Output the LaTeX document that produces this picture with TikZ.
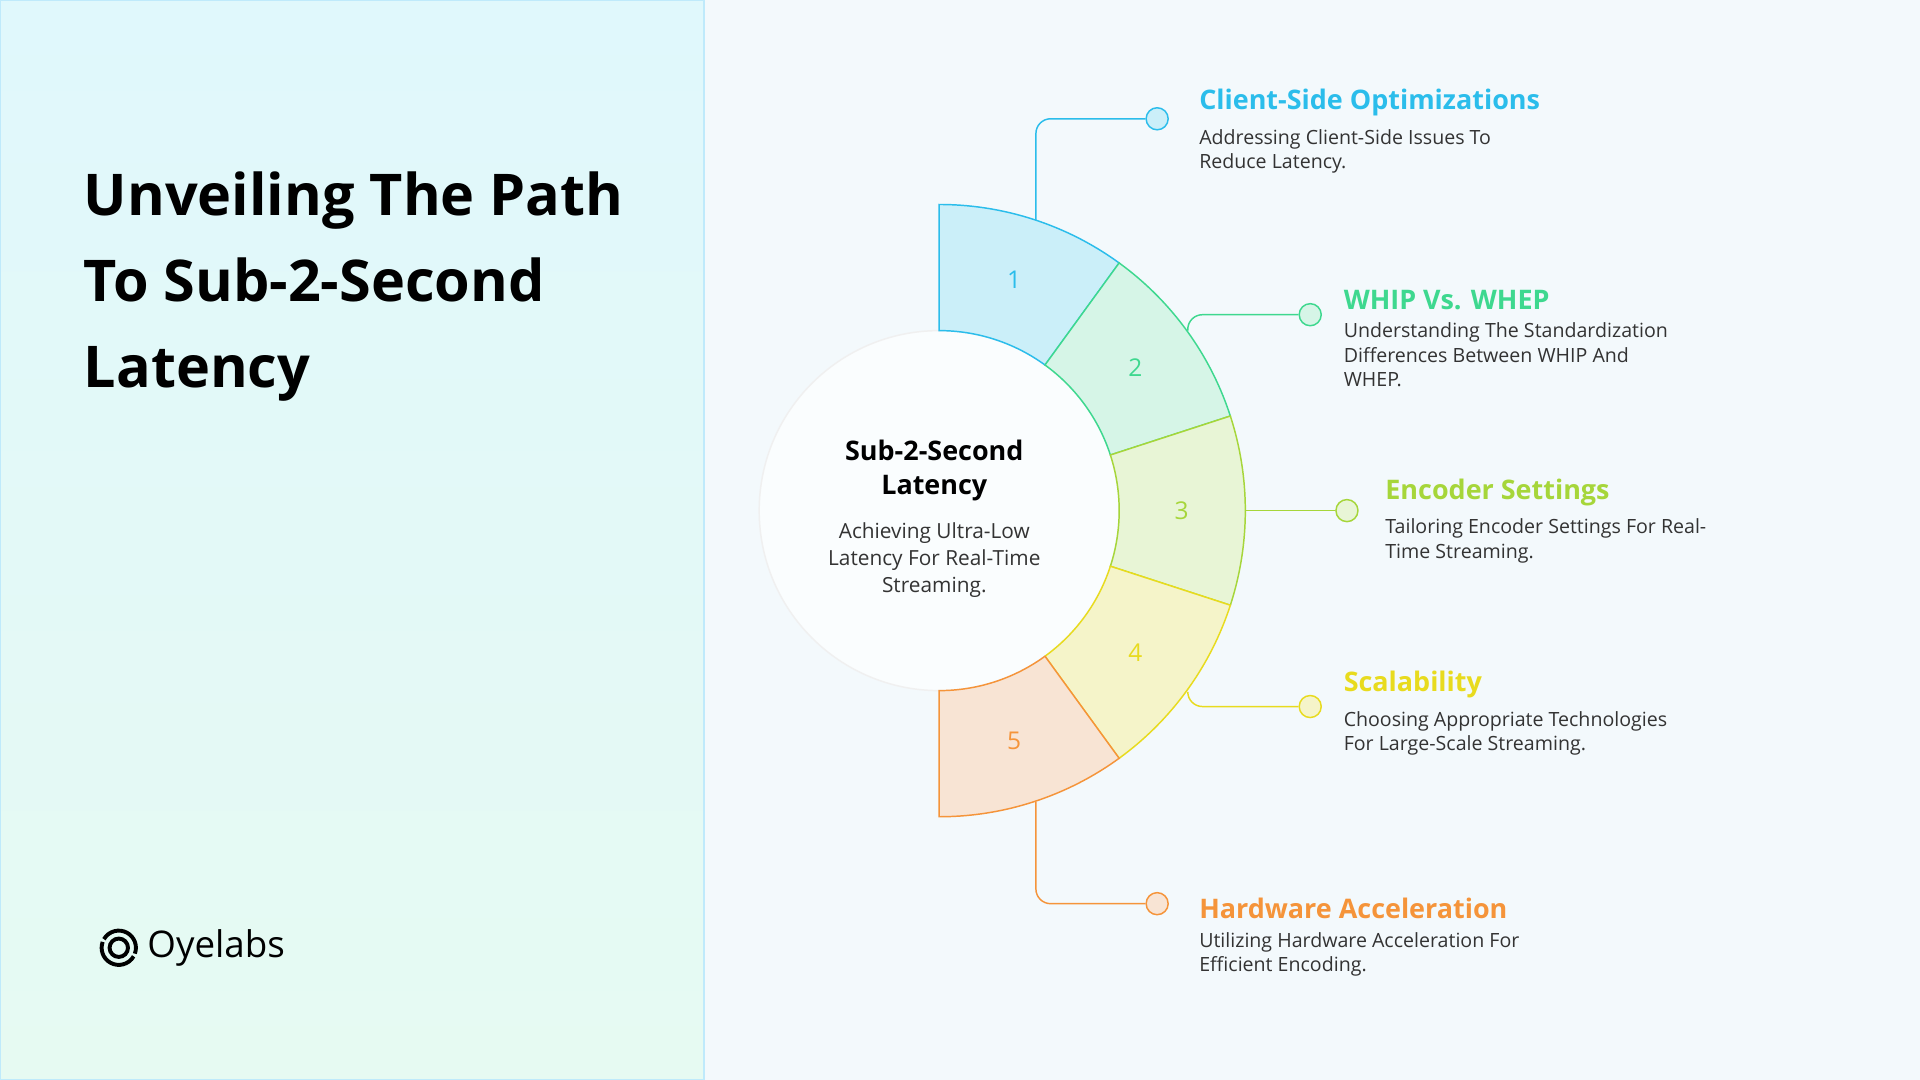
\documentclass[tikz,border=0pt]{standalone}
\usepackage{fontspec}
\setmainfont{Open Sans}
\usetikzlibrary{positioning,calc}
\definecolor{cA}{HTML}{2BBDEB}\definecolor{fA}{HTML}{CBEFF9}
\definecolor{cB}{HTML}{3ED88F}\definecolor{fB}{HTML}{D6F5E7}
\definecolor{cC}{HTML}{A6D63A}\definecolor{fC}{HTML}{E8F5D6}
\definecolor{cD}{HTML}{E8DB1E}\definecolor{fD}{HTML}{F5F4C9}
\definecolor{cE}{HTML}{F5943A}\definecolor{fE}{HTML}{F8E4D4}
\definecolor{bgR}{HTML}{F3F9FC}
\definecolor{panT}{HTML}{E0F8FC}\definecolor{panB}{HTML}{E6FAF2}
\tikzset{
  head/.style={anchor=west,inner sep=0pt,font=\fontsize{11}{13}\selectfont\bfseries},
  body/.style={anchor=north west,inner sep=0pt,align=left,text=black!80,font=\fontsize{8}{10}\selectfont},
  dot/.style={circle,draw,fill=white,minimum size=9pt,inner sep=0pt,line width=0.6pt},
  link/.style={line width=0.6pt,rounded corners=6pt}
}
\begin{document}
\begin{tikzpicture}[x=0.5pt,y=-0.5pt]
\useasboundingbox (0,0) rectangle (1568,882);
\fill[bgR] (0,0) rectangle (1568,882);
% left panel
\shade[top color=panT,bottom color=panB] (0,0) rectangle (575,882);
\draw[cyan!25,line width=0.6pt] (0,0) rectangle (575,882);
\node[anchor=north west,align=left,inner sep=0pt,font=\fontsize{23.5}{35}\selectfont\bfseries] (title) at (68,140)
  {Unveiling The Path\\To Sub-2-Second\\Latency};
% logo
\draw[line width=1.6pt] (97,774) circle (7.5);
\draw[line width=1.6pt] (97,774) ++(30:14) arc (30:200:14);
\draw[line width=1.6pt] (97,774) ++(210:14) arc (210:380:14) ;
\node[anchor=west,inner sep=0pt,font=\fontsize{15}{18}\selectfont] (logo) at (120,774) {Oyelabs};
% centre
\draw[black!6,fill=bgR!40!white,line width=0.6pt] (767,417) circle (147);
\node[align=center,font=\fontsize{11}{14}\selectfont\bfseries] (core) at (763,384) {Sub-2-Second\\Latency};
\node[below=2pt of core,align=center,text=black!80,font=\fontsize{8.5}{11}\selectfont] (coretxt) {Achieving Ultra-Low\\Latency For Real-Time\\Streaming.};
% segments
\foreach \i/\c/\f in {1/cA/fA,2/cB/fB,3/cC/fC,4/cD/fD,5/cE/fE}{
  \pgfmathsetmacro{\a}{-90+36*(\i-1)}
  \pgfmathsetmacro{\b}{\a+36}
  \pgfmathsetmacro{\m}{\a+18}
  \draw[\c,fill=\f,line width=0.6pt] (767,417) ++(\a:147) -- ++(\a:103) arc[start angle=\a,end angle=\b,radius=250] -- ++(\b:-103) arc[start angle=\b,end angle=\a,radius=147] -- cycle;
  \node[text=\c,font=\fontsize{10}{12}\selectfont] (n\i) at ($(767,417)+(\m:198)$) {\i};
}
% connectors
\coordinate (s1) at (846,180); \node[dot,draw=cA,fill=fA] (d1) at (945,97) {};
\coordinate (s2) at (970,270); \node[dot,draw=cB,fill=fB] (d2) at (1070,257) {};
\coordinate (s3) at (1017,417); \node[dot,draw=cC,fill=fC] (d3) at (1100,417) {};
\coordinate (s4) at (970,566); \node[dot,draw=cD,fill=fD] (d4) at (1070,577) {};
\coordinate (s5) at (846,655); \node[dot,draw=cE,fill=fE] (d5) at (945,738) {};
\draw[link,cA] (s1) |- (d1);
\draw[link,cB] (s2) |- (d2);
\draw[link,cC] (s3) -- (d3);
\draw[link,cD] (s4) |- (d4);
\draw[link,cE] (s5) |- (d5);
% labels
\node[head,text=cA] (h1) at (979,84) {Client-Side Optimizations};
\node[body] at ($(h1.south west)+(0,10)$) {Addressing Client-Side Issues To\\Reduce Latency.};
\node[head,text=cB] (h2) at (1097,245) {WHIP Vs. WHEP};
\node[body] at ($(h2.south west)+(0,10)$) {Understanding The Standardization\\Differences Between WHIP And\\WHEP.};
\node[head,text=cC] (h3) at (1131,402) {Encoder Settings};
\node[body] at ($(h3.south west)+(0,10)$) {Tailoring Encoder Settings For Real-\\Time Streaming.};
\node[head,text=cD] (h4) at (1097,559) {Scalability};
\node[body] at ($(h4.south west)+(0,10)$) {Choosing Appropriate Technologies\\For Large-Scale Streaming.};
\node[head,text=cE] (h5) at (979,742) {Hardware Acceleration};
\node[body] at ($(h5.south west)+(0,10)$) {Utilizing Hardware Acceleration For\\Efficient Encoding.};
\end{tikzpicture}
\end{document}
